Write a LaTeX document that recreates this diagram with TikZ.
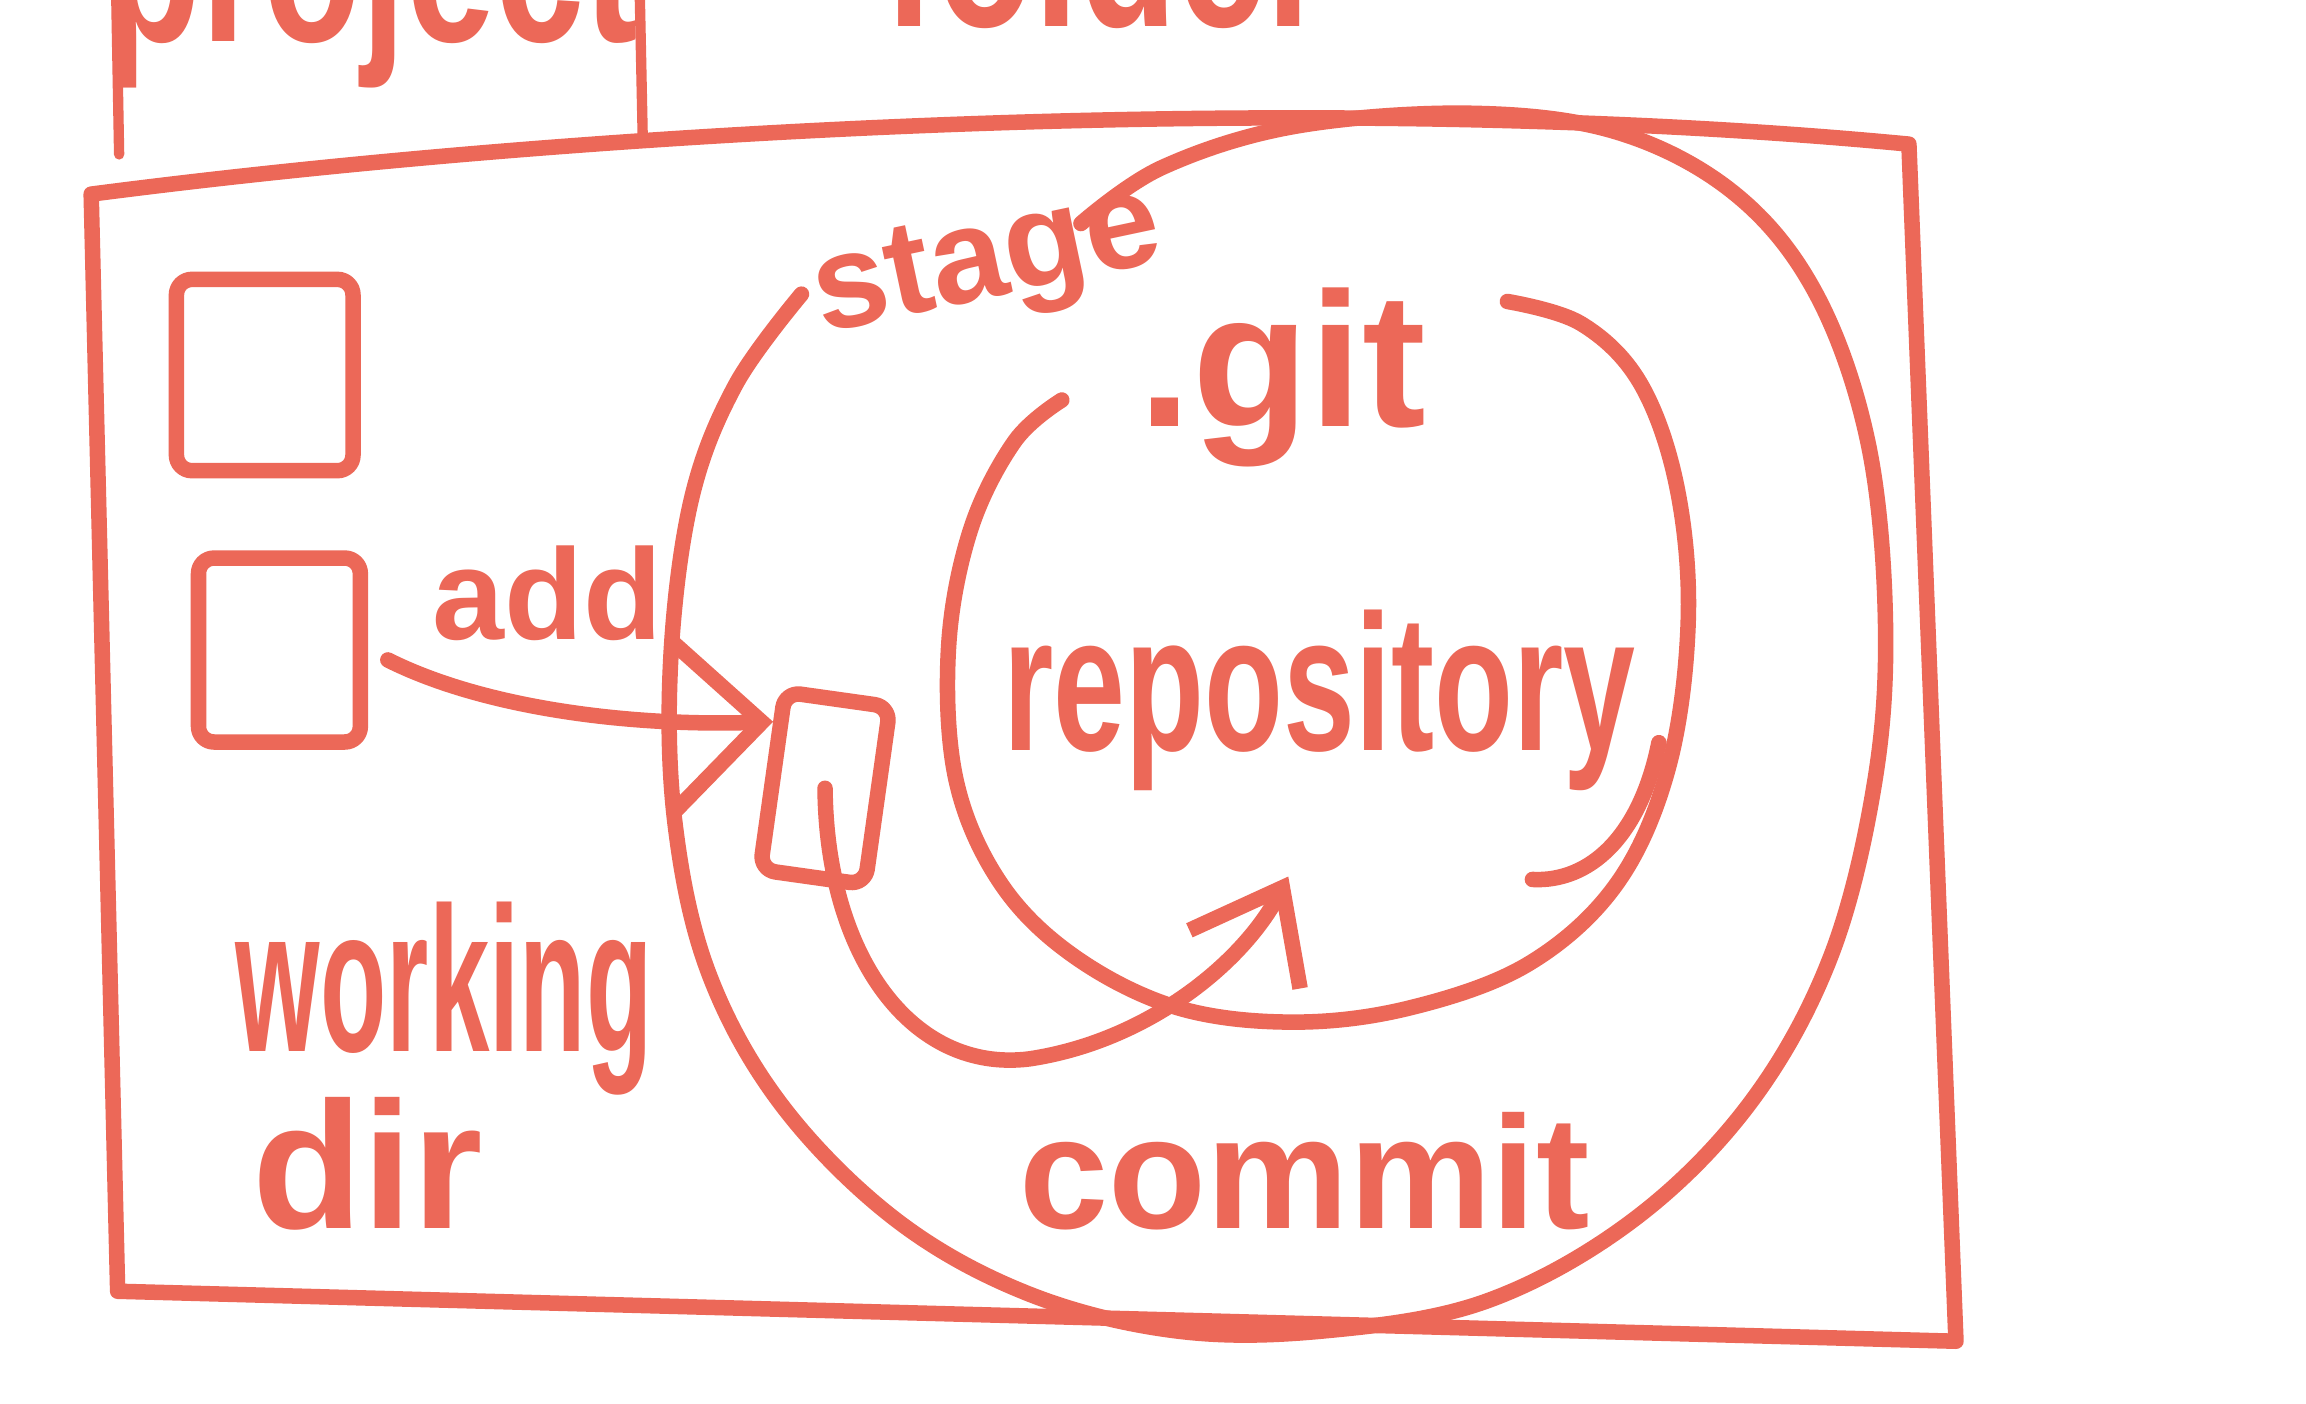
\documentclass[tikz,border=0pt]{standalone}
\usepackage{fontspec}
\setsansfont{Liberation Sans}
\usetikzlibrary{positioning,arrows.meta}
\definecolor{marker}{RGB}{236,104,88}
\tikzset{pen/.style={draw=marker, line width=3pt, line cap=round, line join=round}}
\tikzset{word/.style={text=marker, font=\sffamily\bfseries, inner sep=0pt}}
\tikzset{paper/.style={pen, rounded corners=3pt, inner sep=0pt}}

\begin{document}
\begin{tikzpicture}[x=0.01cm,y=-0.01cm]
                \useasboundingbox (0,0) rectangle (1568,954);
                \fill[white] (0,0) rectangle (1568,954);

                % folder tab and its title, cut at the top
                \draw[pen, line width=2pt] (79,-5) -- (81,105);
                \draw[pen, line width=2pt] (435,-5) -- (437,92);
                \node[word, anchor=base] (project) at (252,28) {\fontsize{31}{31}\selectfont\scalebox{1}[1.4]{project}};
                \node[word, anchor=base] (folder) at (752,18) {\fontsize{31}{31}\selectfont\scalebox{1}[1.4]{folder}};

                % folder outline
                \draw[pen] (62,132) .. controls (400,88) and (900,60) .. (1298,98) -- (1330,912) -- (80,878) -- cycle;

                % files in the working dir
                \node[paper, minimum width=1.2cm, minimum height=1.3cm] (file1) at (180,255) {};
                \node[paper, minimum width=1.1cm, minimum height=1.25cm] (file2) at (190,442) {};
                \node[word, anchor=base] (add) at (372,435) {\fontsize{25}{25}\selectfont add};
                \node[word, anchor=base] (working) at (302,715) {\fontsize{21}{21}\selectfont\scalebox{1}[1.9]{working}};
                \node[word, anchor=base] (dir) at (250,835) {\fontsize{35}{35}\selectfont dir};

                % stage
                \draw[pen] plot[smooth, tension=0.6] coordinates {(545,200) (500,262) (470,340) (456,450) (459,560) (482,662) (532,752) (610,830) (700,880) (800,905) (900,905) (1010,885) (1110,830) (1190,750) (1245,650) (1275,530) (1282,420) (1270,300) (1235,200) (1180,132) (1100,90) (1000,77) (880,86) (790,114) (735,152)};
                \node[word, rotate=12] (stage) at (672,182) {\fontsize{26}{26}\selectfont stage};

                % .git repository
                \draw[pen] plot[smooth, tension=0.6] coordinates {(722,272) (690,300) (660,360) (645,440) (650,530) (680,600) (730,650) (800,685) (880,695) (960,685) (1040,655) (1100,600) (1135,520) (1148,420) (1140,330) (1115,260) (1075,220) (1025,205)};
                \node[word, anchor=base] (git) at (872,290) {\fontsize{37}{37}\selectfont .git};
                \node[word, anchor=base] (repo) at (897,510) {\fontsize{25}{25}\selectfont\scalebox{1}[1.5]{repository}};
                \draw[pen] (1128,505) .. controls (1115,570) and (1080,600) .. (1042,598);
                \node[word, anchor=base] (commit) at (887,835) {\fontsize{31}{31}\selectfont commit};

                % staged file
                \node[paper, minimum width=0.72cm, minimum height=1.22cm, rotate=-8] (staged) at (561,536) {};
                \coordinate (into) at (876,596);

                % add
                \draw[pen, shorten <=0.15cm, -{Straight Barb[length=6mm, width=11.5mm]}] (file2.east) .. controls (330,482) and (430,494) .. (staged.136);
                % commit
                \draw[pen, -{Straight Barb[length=5.5mm, width=8.5mm]}] (staged.center) .. controls (562,650) and (620,730) .. (700,720) .. controls (780,708) and (845,655) .. (into);
            \end{tikzpicture}
\end{document}
